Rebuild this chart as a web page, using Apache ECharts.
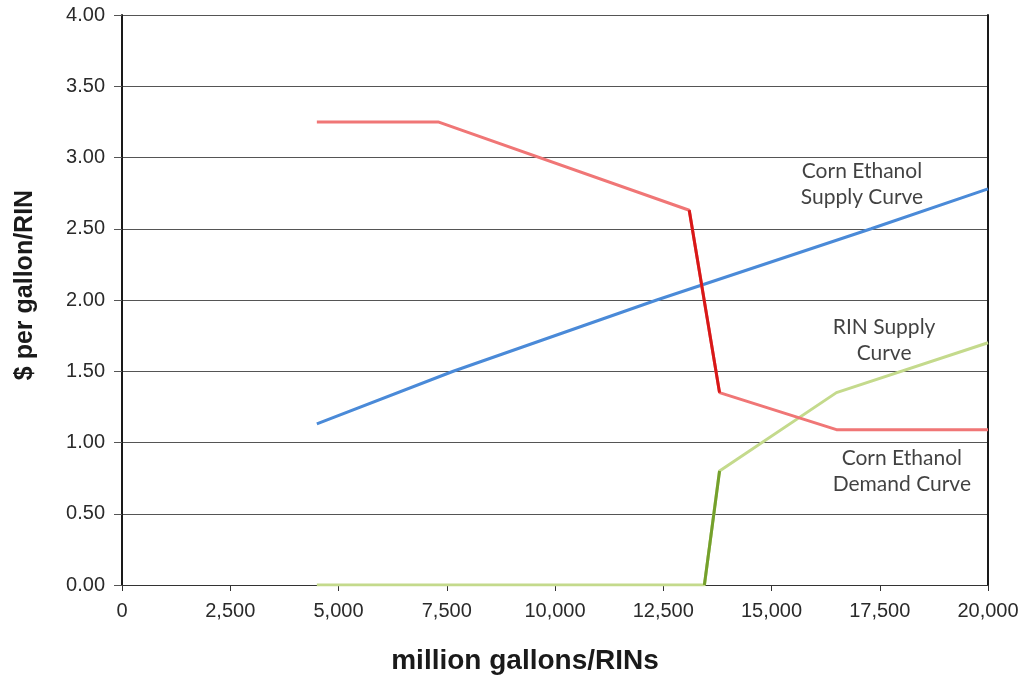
<!DOCTYPE html>
<html>
<head>
<meta charset="utf-8">
<script src="https://cdn.jsdelivr.net/npm/echarts@6/dist/echarts.min.js"></script>
<style>
html,body{margin:0;padding:0;background:#fff;}
#chart{width:1025px;height:675px;}
</style>
</head>
<body>
<div id="chart"></div>
<script>
// Data
const demandCurve = [[4500,3.25],[7300,3.25],[13100,2.63],[13800,1.35],[16500,1.09],[20000,1.09]];
const supplyCurve = [[4500,1.13],[7650,1.50],[12350,2.00],[17300,2.50],[20000,2.78]];
const rinCurve = [[4500,0],[13450,0],[13800,0.80],[16500,1.35],[20000,1.70]];
const curveLabels = [
  {name:'Corn Ethanol\nSupply Curve', value:[17090,2.81]},
  {name:'RIN Supply\nCurve', value:[17600,1.72]},
  {name:'Corn Ethanol\nDemand Curve', value:[18010,0.80]}
];
const xMin = 0, xMax = 20000, xStep = 2500;
const yMin = 0, yMax = 4, yStep = 0.5;

const chart = echarts.init(document.getElementById('chart'));
const lineSeries = (data, color, z) => ({
  type:'line', data:data, symbol:'none', smooth:false, z:z,
  lineStyle:{color:color, width:3}
});
chart.setOption({
  animation:false,
  backgroundColor:'#fff',
  grid:{left:122, right:37, top:15, bottom:90, containLabel:false, outerBoundsMode:'none'},
  xAxis:{
    type:'value', min:xMin, max:xMax, interval:xStep,
    name:'million gallons/RINs', nameLocation:'middle', nameGap:62,
    nameTextStyle:{fontFamily:'Liberation Sans', fontSize:28, fontWeight:'bold', color:'#1a1a1a',
      padding:[0,60,0,0]},
    axisLine:{show:true, lineStyle:{color:'#333', width:1}},
    axisTick:{show:true, length:6, lineStyle:{color:'#333'}},
    axisLabel:{fontFamily:'Liberation Sans', fontSize:20, color:'#2a2a2a', margin:16,
      formatter:v=>v.toLocaleString('en-US')},
    splitLine:{show:false}
  },
  yAxis:[{
    type:'value', min:yMin, max:yMax, interval:yStep,
    name:'$ per gallon/RIN', nameLocation:'middle', nameGap:84,
    nameTextStyle:{fontFamily:'Liberation Sans', fontSize:25, fontWeight:'bold', color:'#1a1a1a',
      padding:[0,0,0,30]},
    axisLine:{show:true, lineStyle:{color:'#1a1a1a', width:2}},
    axisTick:{show:true, length:8, lineStyle:{color:'#555'}},
    axisLabel:{fontFamily:'Liberation Sans', fontSize:20, color:'#2a2a2a', margin:17,
      formatter:v=>v.toFixed(2)},
    splitLine:{show:true, lineStyle:{color:'#555', width:1}}
  },{
    type:'value', min:yMin, max:yMax, interval:yStep, position:'right',
    axisLine:{show:true, lineStyle:{color:'#1a1a1a', width:2}},
    axisTick:{show:false}, axisLabel:{show:false}, splitLine:{show:false}
  }],
  series:[
    lineSeries(supplyCurve, '#4a8ad8', 3),
    lineSeries(rinCurve, '#c4da8c', 4),
    lineSeries(rinCurve.slice(1,3), '#74a02c', 5),
    lineSeries(demandCurve, '#f07676', 6),
    lineSeries(demandCurve.slice(2,4), '#d81818', 7),
    {
      type:'scatter', data:curveLabels, symbolSize:0, z:10,
      label:{show:true, position:'inside', formatter:p=>p.name,
        fontFamily:'Lato', fontSize:21, lineHeight:26, color:'#111', align:'center'}
    }
  ]
});
</script>
</body>
</html>
